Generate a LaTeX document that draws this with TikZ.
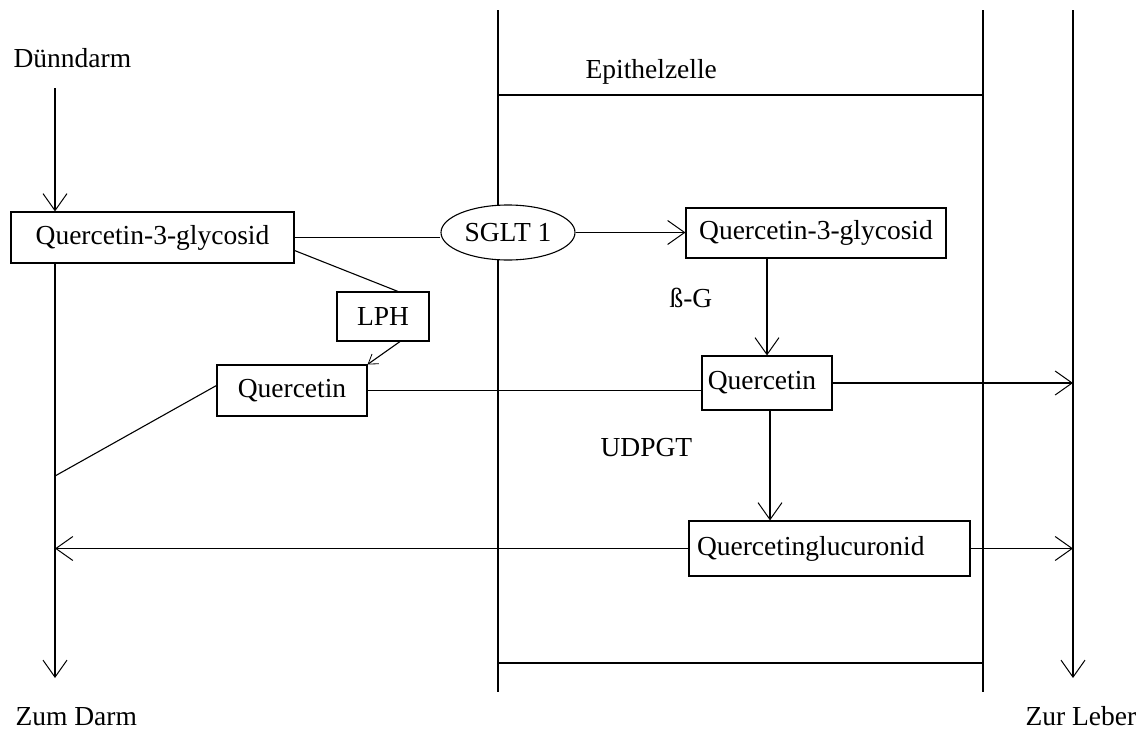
\documentclass[tikz,border=0pt]{standalone}
\usepackage{fontspec}
\setmainfont{Liberation Serif}
\usetikzlibrary{arrows.meta,calc,shapes.geometric}
\begin{document}
\begin{tikzpicture}[x=1pt,y=-1pt,
  line width=1.1pt,
  every node/.style={font=\fontsize{27.5}{33}\selectfont, inner sep=0pt},
  box/.style={draw, rectangle, fill=white},
  lbl/.style={anchor=base west},
  arr/.style={-{Straight Barb[length=17pt,width=24pt,line width=1pt]}},
  arrsmall/.style={-{Straight Barb[length=9pt,width=12pt,line width=0.8pt]}}]
\useasboundingbox (0,0) rectangle (1144,731);

% epithelial cell boundaries
\draw (498,10) -- (498,692);
\draw (983,10) -- (983,692);
\draw (498,95) -- (983,95);
\draw (498,663) -- (983,663);

% lumen and blood side main lines
\coordinate (inTop) at (55,88);
\coordinate (outBot) at (55,678);
\coordinate (lvTop) at (1073,10);
\coordinate (lvBot) at (1073,678);
\coordinate (joinL) at (55,476);
\draw[arr] (lvTop) -- (lvBot);

% labels
\node[lbl] (duenn) at (13,67) {Dünndarm};
\node[lbl] (epi) at (585,78) {Epithelzelle};
\node[lbl] (zumD) at (15,725) {Zum Darm};
\node[lbl] (zurL) at (1025,725) {Zur Leber};
\node[lbl] (bg) at (669,307) {ß-G};
\node[lbl] (udp) at (600,456) {UDPGT};

% boxes
\node[box, minimum width=283, minimum height=51] (q3gL) at (152.5,237.5) {Quercetin-3-glycosid};
\node[box, minimum width=92, minimum height=49] (lph) at (383,316.5) {LPH};
\node[box, minimum width=150, minimum height=51] (qL) at (292,390.5) {Quercetin};
\node[box, minimum width=260, minimum height=50] (q3gR) at (816,233) {Quercetin-3-glycosid};
\node[box, minimum width=130, minimum height=54] (qR) at (767,383) {\hspace*{-10pt}Quercetin};
\node[box, minimum width=281, minimum height=55, align=left, text width=265, inner xsep=8] (gluc) at (829.5,548.5) {Quercetinglucuronid};
\node[draw, ellipse, fill=white, minimum width=134, minimum height=55] (sglt) at (508,232.5) {SGLT 1};

% connection points
\coordinate (lphIn) at ($(q3gL.east)+(0,13)$);
\coordinate (lphTop) at ($(lph.north)+(15,0)$);
\coordinate (lphOut) at ($(lph.south)+(17,0)$);
\coordinate (qLout) at ($(qL.west)+(0,-5)$);
\coordinate (qRdown) at ($(qR.south)+(3,0)$);

% connectors
\draw[arr] (inTop) -- (inTop |- q3gL.north);
\draw[arr] (q3gL.south -| outBot) -- (outBot);
\draw (q3gL.east) -- (q3gL.east -| sglt.west);
\draw[arr] (sglt.east) -- (sglt.east -| q3gR.west);
\draw (lphIn) -- (lphTop);
\draw[arrsmall] (lphOut) -- (qL.north east);
\draw (qL.east) -- (qL.east -| qR.west);
\draw (qLout) -- (joinL);
\draw[arr] (qR.north |- q3gR.south) -- (qR.north);
\draw[arr] (qR.east) -- (qR.east -| lvTop);
\draw[arr] (qRdown) -- (qRdown |- gluc.north);
\draw[arr] (gluc.east) -- (gluc.east -| lvTop);
\draw[arr] (gluc.west) -- (gluc.west -| outBot);
\end{tikzpicture}
\end{document}
